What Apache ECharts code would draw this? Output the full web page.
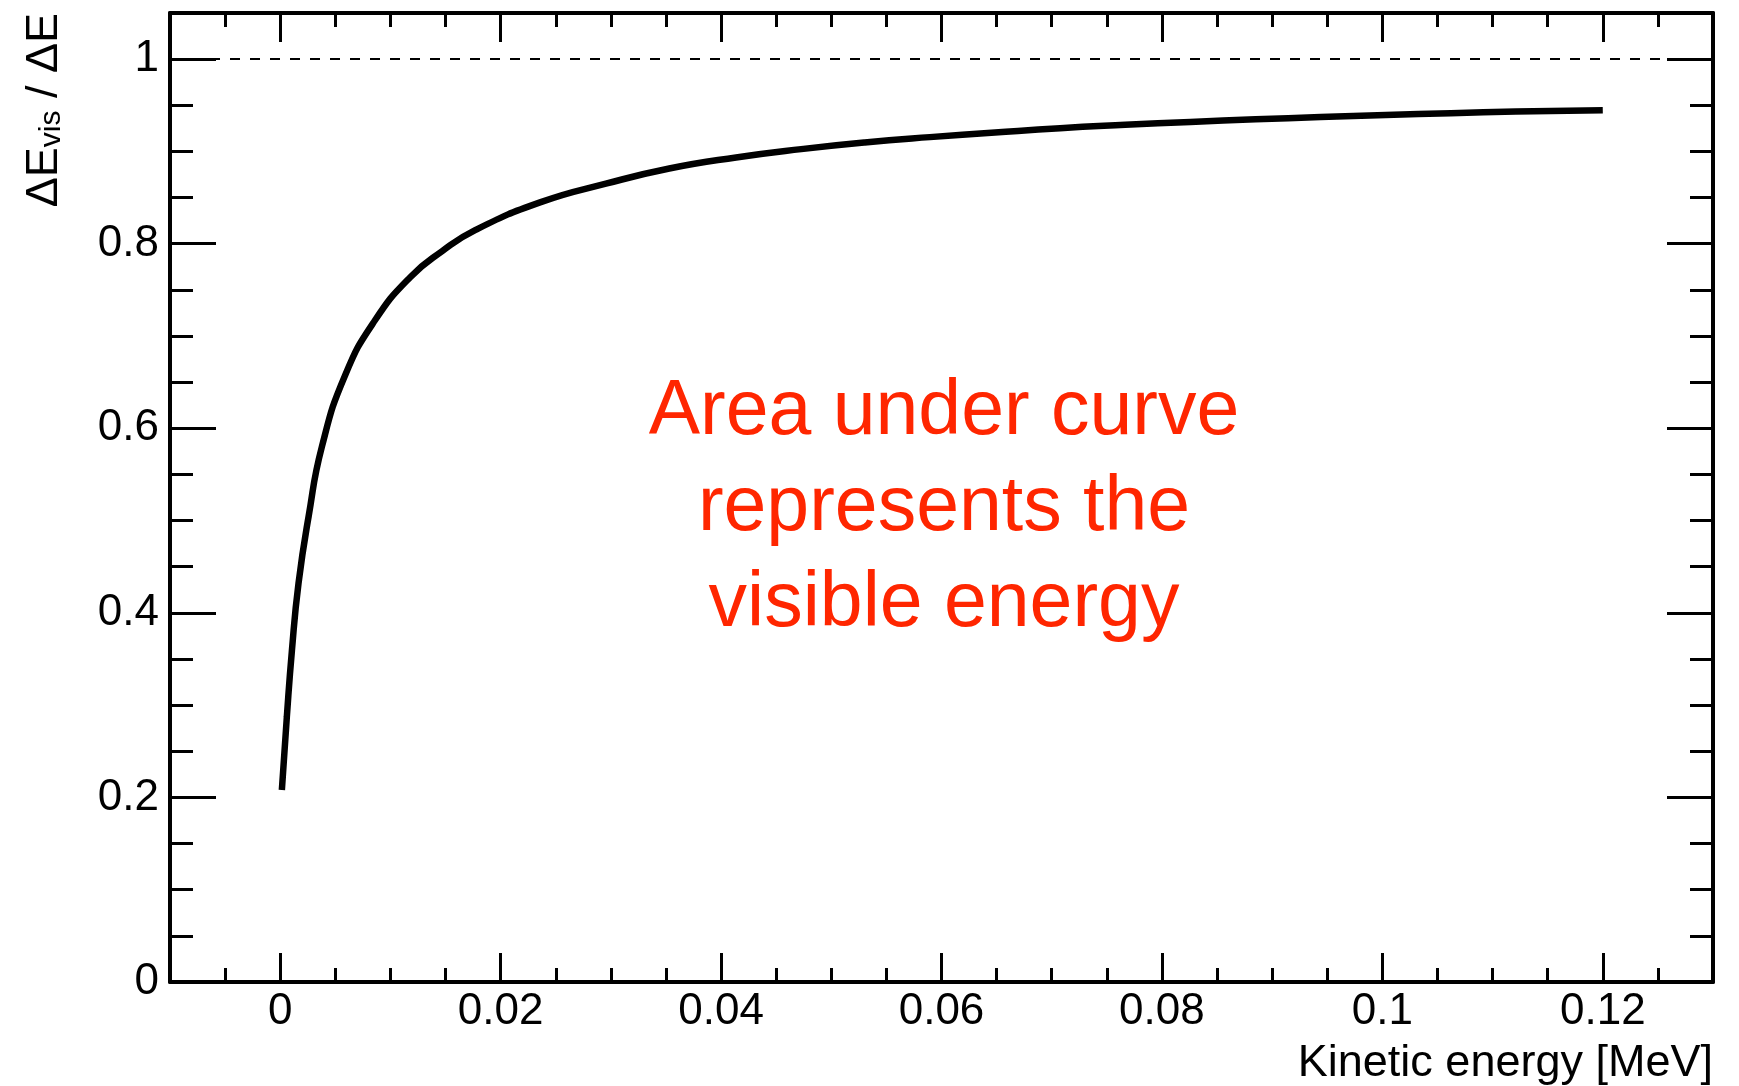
<!DOCTYPE html>
<html>
<head>
<meta charset="utf-8">
<script src="https://cdn.jsdelivr.net/npm/echarts@6/dist/echarts.min.js"></script>
<style>
  html, body { margin: 0; padding: 0; background: #fff; }
  #chart { width: 1739px; height: 1086px; }
</style>
</head>
<body>
<div id="chart"></div>
<script>
/* values */
var energy = [0.00015, 0.0006, 0.00106, 0.00166, 0.00257, 0.00378, 0.00591, 0.0086, 0.01182, 0.0147, 0.01773,
              0.02364, 0.02955, 0.0353, 0.04136, 0.04727, 0.05303, 0.05894, 0.06485, 0.07076, 0.07667, 0.08258,
              0.0885, 0.0944, 0.1003, 0.1062, 0.1121, 0.12];
var ratio = [0.208, 0.287, 0.359, 0.432, 0.504, 0.580, 0.658, 0.717, 0.764, 0.792, 0.815,
             0.845, 0.865, 0.8815, 0.8935, 0.9025, 0.9097, 0.9155, 0.9205, 0.9252, 0.9288, 0.932,
             0.9348, 0.9372, 0.9394, 0.9414, 0.9432, 0.9447];
var xMajorTicks = [0, 0.02, 0.04, 0.06, 0.08, 0.1, 0.12];
var xLabels = ['0', '0.02', '0.04', '0.06', '0.08', '0.1', '0.12'];
var yLabels = ['0', '0.2', '0.4', '0.6', '0.8', '1'];
var refLevel = 1;
var noteLines = ['Area under curve', 'represents the', 'visible energy'];

var font = 'Liberation Sans, Arial, Helvetica, sans-serif';

var curve = [];
for (var i = 0; i < energy.length; i++) {
    curve.push([energy[i], ratio[i]]);
}

function xAxisDef(pos, major) {
    var a = {
        type: 'value',
        position: pos,
        min: -0.01,
        max: 0.13,
        axisLine: { show: major, onZero: false, lineStyle: { color: '#000', width: 4 } },
        axisTick: { show: true, inside: true, length: major ? 29 : 14, lineStyle: { color: '#000', width: 3 } },
        axisLabel: { show: false },
        splitLine: { show: false }
    };
    if (major) {
        a.axisTick.customValues = xMajorTicks;
        if (pos === 'bottom') {
            a.axisLabel = {
                show: true,
                customValues: xMajorTicks,
                margin: 8,
                color: '#000',
                fontFamily: font,
                fontSize: 44,
                formatter: function (v) {
                    var k = xMajorTicks.findIndex(function (t) { return Math.abs(t - v) < 1e-9; });
                    return k >= 0 ? xLabels[k] : '';
                }
            };
        }
    } else {
        a.interval = 0.005;
    }
    return a;
}

function yAxisDef(pos, major) {
    var a = {
        type: 'value',
        position: pos,
        min: 0,
        max: 1.05,
        interval: major ? 0.2 : 0.05,
        axisLine: { show: major, onZero: false, lineStyle: { color: '#000', width: 4 } },
        axisTick: { show: true, inside: true, length: major ? 46 : 23, lineStyle: { color: '#000', width: 3 } },
        axisLabel: { show: false },
        splitLine: { show: false }
    };
    if (major && pos === 'left') {
        a.axisLabel = {
            show: true,
            showMaxLabel: false,
            margin: 11,
            color: '#000',
            fontFamily: font,
            fontSize: 44,
            formatter: function (v) {
                var k = Math.round(v / 0.2);
                return (Math.abs(v - k * 0.2) < 1e-9 && k < yLabels.length) ? yLabels[k] : '';
            }
        };
    }
    return a;
}

var chart = echarts.init(document.getElementById('chart'));
var option = {
    animation: false,
    backgroundColor: '#fff',
    grid: { left: 170, right: 26, top: 13, bottom: 104 },
    xAxis: [
        xAxisDef('bottom', true),
        xAxisDef('bottom', false),
        xAxisDef('top', true),
        xAxisDef('top', false)
    ],
    yAxis: [
        yAxisDef('left', true),
        yAxisDef('left', false),
        yAxisDef('right', true),
        yAxisDef('right', false)
    ],
    series: [
        {
            type: 'line',
            xAxisIndex: 0,
            yAxisIndex: 0,
            data: curve,
            showSymbol: false,
            smooth: 0.5,
            lineStyle: { color: '#000', width: 6.5 },
            silent: true,
            markLine: {
                silent: true,
                symbol: ['none', 'none'],
                label: { show: false },
                lineStyle: { color: '#000', width: 2, type: [10, 10] },
                data: [{ yAxis: refLevel }]
            }
        }
    ],
    graphic: [
        {
            type: 'text',
            x: 41,
            y: 13,
            rotation: Math.PI / 2,
            style: {
                text: '{n|ΔE}{s|vis}{n| / ΔE}',
                align: 'right',
                verticalAlign: 'middle',
                rich: {
                    n: { fontFamily: font, fontSize: 45, lineHeight: 52, verticalAlign: 'bottom', fill: '#000' },
                    s: { fontFamily: font, fontSize: 30, lineHeight: 22, verticalAlign: 'bottom', fill: '#000' }
                }
            }
        },
        {
            type: 'text',
            x: 1713,
            y: 1064,
            style: {
                text: 'Kinetic energy [MeV]',
                align: 'right',
                verticalAlign: 'middle',
                fontFamily: font,
                fontSize: 45,
                fill: '#000'
            }
        },
        {
            type: 'text',
            x: 944,
            y: 509,
            style: {
                text: noteLines.join('\n'),
                align: 'center',
                verticalAlign: 'middle',
                fontFamily: font,
                fontSize: 77,
                lineHeight: 96,
                fill: '#ff2600'
            }
        }
    ]
};
chart.setOption(option);
</script>
</body>
</html>
